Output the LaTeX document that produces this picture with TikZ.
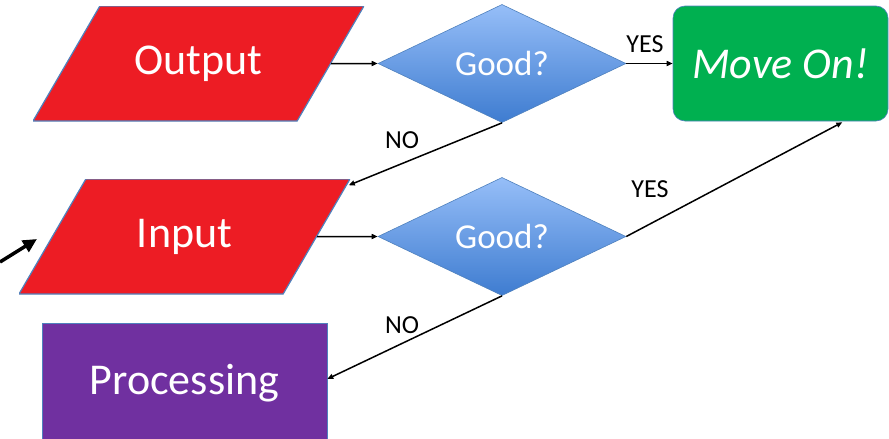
\documentclass[tikz,border=0pt]{standalone}
\definecolor{ioRed}{RGB}{237, 28, 36}
\definecolor{goGreen}{RGB}{0, 176, 80}
\definecolor{procPurple}{RGB}{112, 48, 160}
\definecolor{diaTop}{RGB}{150, 190, 248}
\definecolor{diaBot}{RGB}{62, 124, 208}
\definecolor{edgeBlue}{RGB}{79, 129, 189}
\usepackage{fontspec}
\setmainfont{Carlito}
\usepackage{tikz}
\usetikzlibrary{shapes.geometric,arrows.meta,calc}
\tikzset{every picture/.style={line width=1.5pt}}
\tikzset{
  iobox/.style={rectangle, minimum width=331, minimum height=115, inner sep=0pt,
    text=white, font=\fontsize{44}{48}\selectfont,
    path picture={
      \draw[fill=ioRed, draw=edgeBlue, line width=1.2pt]
        (path picture bounding box.south west)
        -- ($(path picture bounding box.south west)!0.798!(path picture bounding box.south east)$)
        -- (path picture bounding box.north east)
        -- ($(path picture bounding box.north west)!0.202!(path picture bounding box.north east)$)
        -- cycle;}},
  gooddia/.style={diamond, minimum width=248, minimum height=115, inner sep=0pt,
    top color=diaTop, bottom color=diaBot, draw=edgeBlue, line width=0.6pt,
    text=white, font=\fontsize{35}{40}\selectfont},
  movebox/.style={rectangle, rounded corners=12pt, minimum width=215, minimum height=115,
    fill=goGreen, draw=edgeBlue, line width=0.6pt, text=white, font=\fontsize{44}{48}\selectfont\itshape},
  procbox/.style={rectangle, minimum width=285, minimum height=120,
    fill=procPurple, draw=edgeBlue, line width=0.6pt, text=white, font=\fontsize{44}{48}\selectfont},
  flow/.style={-{Triangle[length=6pt,width=5pt]}},
  lbl/.style={inner sep=0pt, font=\fontsize{26}{30}\selectfont}
}

\begin{document}
\begin{tikzpicture}[x=1pt,y=1pt,yscale=-1]
\useasboundingbox (0,0) rectangle (889,439);

%Shapes
\node[iobox] (out) at (198.5,63.5) {Output};
\node[iobox] (in) at (184.5,236.5) {Input};
\node[gooddia] (good1) at (502,63.5) {Good?};
\node[gooddia] (good2) at (502,236.5) {Good?};
\node[movebox] (move) at (780.5,63.5) {Move On!};
\node[procbox] (proc) at (184.5,383) {Processing};

%Free ends
\coordinate (start) at (0,262);
\coordinate (entry) at (37,239);

%Straight Lines
\draw[flow] ($(out.east)!0.101!(out.west)$) -- (good1.west);
\draw[flow] (good1.east) -- (move.west);
\draw[flow] (good1.south) -- ($(in.north east)+(-2,7)$);
\draw[flow] ($(in.east)!0.101!(in.west)$) -- (good2.west);
\draw[flow] (good2.east) -- ($(move.south east)+(-46,1)$);
\draw[flow] (good2.south) -- ($(proc.east)+(0,-4)$);
\draw[line width=3.5pt, -{Triangle[length=14pt,width=13pt]}] (start) -- (entry);

% Text Node
\node[lbl] (yes1) at (645,44) {YES};
\node[lbl] (no1) at (402,140) {NO};
\node[lbl] (yes2) at (650,189) {YES};
\node[lbl] (no2) at (402,325) {NO};

\end{tikzpicture}
\end{document}
